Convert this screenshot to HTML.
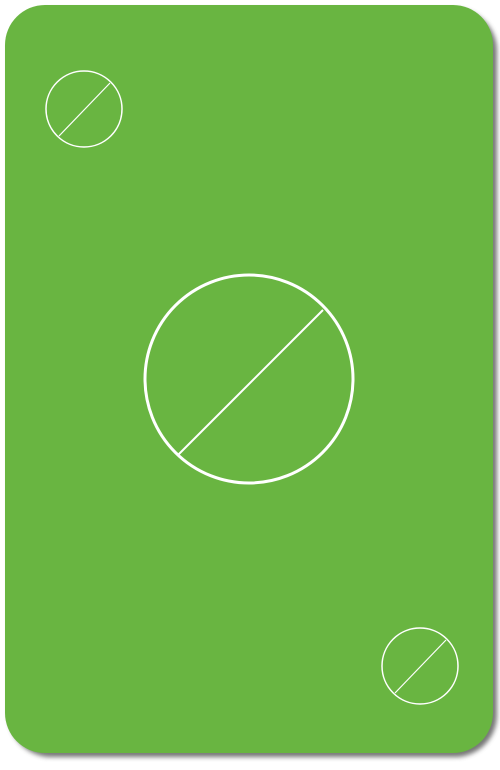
<!DOCTYPE html>
<html><head><style>
html,body{margin:0;padding:0;background:#fff;width:500px;height:770px;overflow:hidden}
</style></head><body>
<svg width="500" height="770" viewBox="0 0 500 770">
<defs><filter id="sh" x="-10%" y="-10%" width="120%" height="120%"><feGaussianBlur stdDeviation="2.5"/></filter></defs>
<rect x="9" y="9" width="488" height="748" rx="42" fill="#555" opacity="0.8" filter="url(#sh)"/>
<rect x="5" y="5" width="488" height="748" rx="40" fill="#69b541"/>
<g fill="none" stroke="#fff">
<circle cx="249" cy="379" r="104" stroke-width="3"/>
<line x1="178" y1="455" x2="323" y2="310" stroke-width="2"/>
</g>
<g fill="none" stroke="#fff">
<circle cx="84" cy="109" r="38" stroke-width="1.5"/>
<line x1="59" y1="136" x2="110" y2="83" stroke-width="1.2"/>
</g>
<g fill="none" stroke="#fff">
<circle cx="420" cy="666" r="38" stroke-width="1.5"/>
<line x1="395" y1="693" x2="446" y2="640" stroke-width="1.2"/>
</g>
</svg>
</body></html>
